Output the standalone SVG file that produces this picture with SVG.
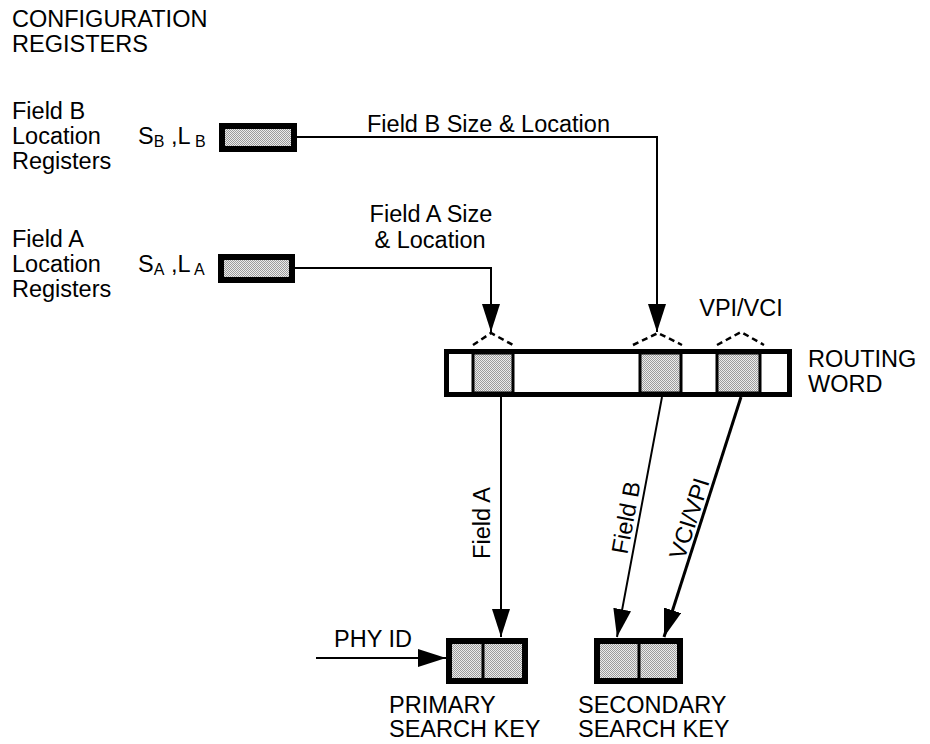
<svg xmlns="http://www.w3.org/2000/svg" width="930" height="744" viewBox="0 0 930 744">
<defs>
<pattern id="dots" width="2" height="2" patternUnits="userSpaceOnUse">
<rect width="2" height="2" fill="#ececec"/>
<rect width="1" height="1" fill="#9c9c9c"/>
<rect x="1" y="1" width="1" height="1" fill="#9c9c9c"/>
</pattern>
<marker id="arr" markerUnits="userSpaceOnUse" markerWidth="30" markerHeight="20" refX="28" refY="9" orient="auto">
<path d="M0,0 L28,9 L0,18 z" fill="#000"/>
</marker>
</defs>
<style>
text{font-family:"Liberation Sans",Arial,sans-serif;font-size:23.5px;fill:#000}
.sub{font-size:16px}
.reg{fill:url(#dots);stroke:#000;stroke-width:6}
.cell{fill:url(#dots);stroke:#000;stroke-width:3}
.wire{fill:none;stroke:#000;stroke-width:2}
.dash{fill:none;stroke:#000;stroke-width:2.5;stroke-dasharray:6 4}
</style>
<rect width="930" height="744" fill="#fff"/>

<g id="title">
<text x="12" y="27">CONFIGURATION</text>
<text x="12" y="52">REGISTERS</text>
</g>

<g id="fieldB-reg">
<text x="12" y="119">Field B</text>
<text x="12" y="144">Location</text>
<text x="12" y="169">Registers</text>
<text x="138" y="144">S<tspan class="sub" dy="3">B</tspan><tspan dy="-3"> ,L</tspan><tspan class="sub" dy="3"> B</tspan></text>
<rect class="reg" x="222" y="126" width="72" height="23"/>
</g>

<g id="fieldA-reg">
<text x="12" y="247">Field A</text>
<text x="12" y="272">Location</text>
<text x="12" y="297">Registers</text>
<text x="138" y="272">S<tspan class="sub" dy="3">A</tspan><tspan dy="-3"> ,L</tspan><tspan class="sub" dy="3"> A</tspan></text>
<rect class="reg" x="221" y="257" width="71" height="23"/>
</g>

<g id="routing-word">
<rect x="446.5" y="351.5" width="343" height="43" fill="#fff" stroke="#000" stroke-width="5"/>
<rect class="cell" x="473" y="353" width="40" height="40"/>
<rect class="cell" x="640" y="353" width="41" height="40"/>
<rect class="cell" x="717" y="353" width="43" height="40"/>
<path class="dash" d="M473,345 L491,333 L513,345"/>
<path class="dash" d="M633,345 L658,333 L682,345"/>
<path class="dash" d="M717,345 L741,332 L764,345"/>
<text x="808" y="367">ROUTING</text>
<text x="808" y="392">WORD</text>
<text x="741" y="316" text-anchor="middle">VPI/VCI</text>
</g>

<g id="primary-key">
<rect x="449" y="641" width="76" height="40" fill="url(#dots)" stroke="#000" stroke-width="6"/>
<line x1="483" y1="641" x2="483" y2="681" stroke="#000" stroke-width="3"/>
<text x="389" y="713">PRIMARY</text>
<text x="389" y="737">SEARCH KEY</text>
</g>

<g id="secondary-key">
<rect x="597" y="641" width="83" height="40" fill="url(#dots)" stroke="#000" stroke-width="6"/>
<line x1="639" y1="641" x2="639" y2="681" stroke="#000" stroke-width="3"/>
<text x="578" y="713">SECONDARY</text>
<text x="578" y="737">SEARCH KEY</text>
</g>

<g id="connectors">
<path class="wire" d="M297,137 H657 V332" marker-end="url(#arr)"/>
<text x="367" y="132">Field B Size &amp; Location</text>
<path class="wire" d="M295,268 H491 V332" marker-end="url(#arr)"/>
<text x="431" y="222" text-anchor="middle">Field A Size</text>
<text x="430" y="248" text-anchor="middle">&amp; Location</text>
<line class="wire" x1="501" y1="397" x2="501" y2="637" marker-end="url(#arr)"/>
<text transform="translate(490 523) rotate(-90)" text-anchor="middle">Field A</text>
<line class="wire" x1="662" y1="397" x2="617" y2="637" marker-end="url(#arr)"/>
<text transform="translate(634 519) rotate(-79.4)" text-anchor="middle">Field B</text>
<line class="wire" style="stroke-width:3" x1="741" y1="397" x2="664" y2="637" marker-end="url(#arr)"/>
<text transform="translate(697 521) rotate(-72.2)" text-anchor="middle">VCI/VPI</text>
<line class="wire" x1="316" y1="658" x2="446" y2="658" marker-end="url(#arr)"/>
<text x="334" y="647">PHY ID</text>
</g>
</svg>
